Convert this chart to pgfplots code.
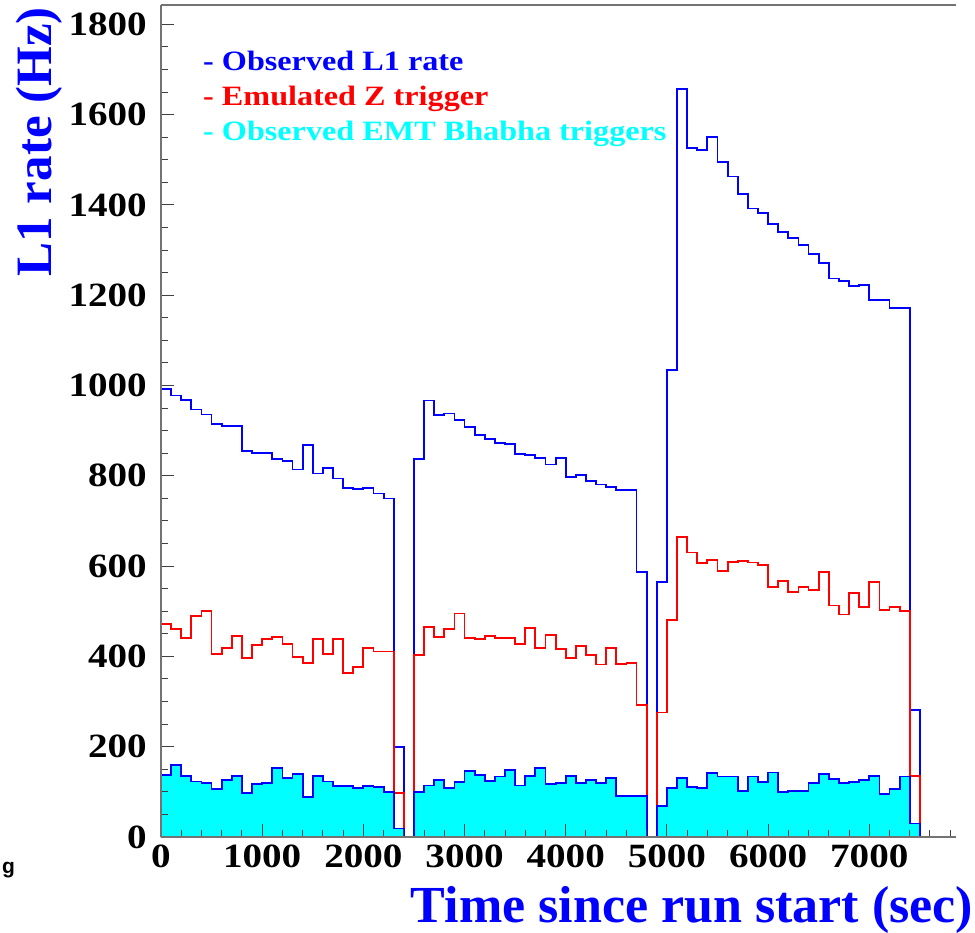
\documentclass[border=0pt]{standalone}
\usepackage{pgfplots}
\pgfplotsset{compat=1.18}
\usepackage{pgfplotstable}
\usepackage{fontspec}
\setmainfont{Liberation Serif}
\newfontfamily\tickfont{Liberation Serif Bold}[FakeStretch=1.15]
\newfontfamily\legfont{Liberation Serif Bold}[FakeStretch=1.15]
\newfontfamily\gfont{Liberation Sans Bold}

\definecolor{rblue}{RGB}{0,0,255}
\definecolor{rred}{RGB}{255,0,0}
\definecolor{rcyan}{RGB}{0,255,255}

\pgfplotstableread{
x L1 Z EMT
0 993 472 138
100 978 461 160
200 968 441 135
300 947 489 123
400 936 500 120
500 914 406 106
600 911 419 126
700 911 445 135
800 855 397 98
900 850 426 118
1000 850 438 120
1100 837 443 153
1200 833 428 130
1300 814 399 140
1400 869 386 89
1500 805 438 135
1600 817 406 123
1700 794 438 113
1800 773 364 113
1900 771 377 109
2000 773 419 113
2100 761 411 111
2200 750 411 99
2300 200 97 19
2400 0 0 0
2500 837 404 99
2600 967 466 114
2700 934 443 127
2800 938 461 108
2900 924 495 121
3000 909 441 147
3100 891 438 137
3200 882 445 124
3300 873 441 134
3400 870 441 148
3500 848 428 114
3600 847 463 136
3700 840 419 153
3800 825 448 117
3900 840 416 119
4000 797 397 136
4100 802 423 119
4200 788 404 127
4300 781 382 119
4400 776 419 131
4500 769 384 91
4600 769 386 91
4700 587 292 91
4800 0 0 0
4900 565 276 69
5000 1035 481 109
5100 1657 664 131
5200 1527 630 111
5300 1522 607 109
5400 1550 613 141
5500 1496 589 134
5600 1463 609 134
5700 1424 611 102
5800 1392 608 134
5900 1383 602 121
6000 1358 554 143
6100 1341 567 99
6200 1326 543 102
6300 1311 554 102
6400 1292 547 119
6500 1272 587 139
6600 1237 513 128
6700 1231 493 120
6800 1220 540 122
6900 1222 510 126
7000 1190 565 136
7100 1189 503 95
7200 1171 510 107
7300 1172 500 134
7400 281 136 30
7500 0 0 0
}\rates

\pgfplotsset{
  l1/.style={const plot, color=rblue, line width=1.8bp},
  zt/.style={const plot, color=rred, line width=1.8bp},
  emt/.style={const plot, draw=rblue, fill=rcyan, line width=1.8bp},
}

\begin{document}
\begin{tikzpicture}
\begin{axis}[
  name=ax,
  scale only axis,
  width=795.3bp, height=832bp,
  xmin=0, xmax=7860, ymin=0, ymax=1843,
  enlargelimits=false,
  axis on top,
  axis x line*=box, axis y line*=left,
  xtick={0,1000,...,7000},
  ytick={0,200,...,1800},
  minor xtick={200,400,...,7800},
  minor y tick num=3,
  tick align=inside,
  xtick pos=left, ytick pos=left,
  major tick length=13bp, minor tick length=7bp,
  tick style={line width=1bp, black!75},
  axis line style={line width=1.2bp, black!55, -},
  scaled ticks=false,
  /pgf/number format/assume math mode=true,
  /pgf/number format/1000 sep={},
  ticklabel style={font=\tickfont\fontsize{34bp}{34bp}\selectfont, inner sep=0pt},
  yticklabel style={anchor=east, xshift=-14bp},
  xticklabel style={anchor=north, yshift=-8bp},
  xlabel={Time since run start (sec)},
  ylabel={L1 rate (Hz)},
  label style={text=rblue, inner sep=0pt},
  xlabel style={font=\bfseries\fontsize{52bp}{52bp}\selectfont, at={(axis description cs:1.0214,-0.1022)}, anchor=base east},
  ylabel style={font=\bfseries\fontsize{51bp}{51bp}\selectfont, at={(axis description cs:-0.1371,0.9976)}, anchor=base east},
  legend image code/.code={},
  legend cell align=left,
  legend style={draw=none, fill=none, at={(axis description cs:0.0528,0.9459)}, anchor=north west,
    inner sep=0pt, row sep=9bp,
    font=\legfont\fontsize{28bp}{28bp}\selectfont,
    nodes={inner sep=0pt, text height=20bp, text depth=6bp}},
]
\addplot[l1] table[x=x, y=L1]{\rates};
\addlegendentry[text=rblue]{- Observed L1 rate}
\addplot[zt] table[x=x, y=Z]{\rates};
\addlegendentry[text=rred]{- Emulated Z trigger}
\addplot[emt] table[x=x, y=EMT]{\rates} \closedcycle;
\addlegendentry[text=rcyan]{- Observed EMT Bhabha triggers}
\end{axis}
\node[anchor=base west, inner sep=0pt, font=\gfont\fontsize{21bp}{21bp}\selectfont] at ([xshift=-159bp, yshift=-36bp]ax.south west) {g};
\pgfresetboundingbox
\useasboundingbox ([xshift=-161bp,yshift=-96bp]ax.south west) rectangle ([xshift=814bp,yshift=5bp]ax.north west);
\end{tikzpicture}
\end{document}
